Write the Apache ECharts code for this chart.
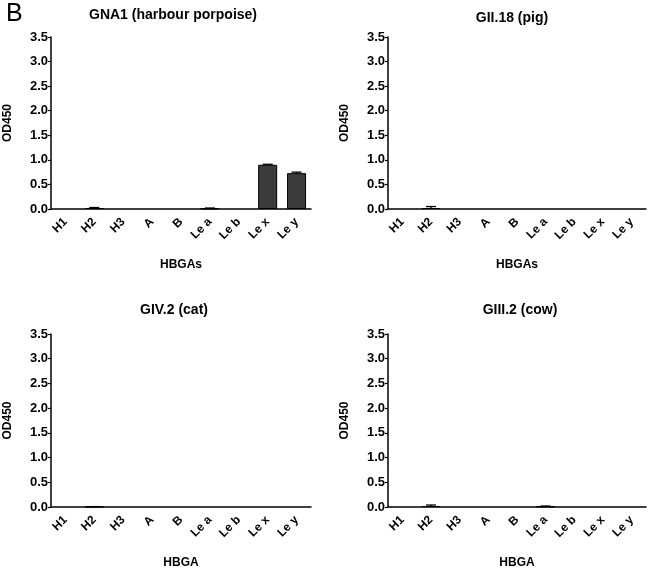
<!DOCTYPE html>
<html><head><meta charset="utf-8">
<script src="https://cdn.jsdelivr.net/npm/echarts@6/dist/echarts.min.js"></script>
<style>html,body{margin:0;padding:0;background:#fff}#c{width:650px;height:568px}</style>
</head><body><div id="c"></div>
<script>
const categories = ['H1','H2','H3','A','B','Le a','Le b','Le x','Le y'];
const yTicks = ['0.0','0.5','1.0','1.5','2.0','2.5','3.0','3.5'];
const titles = ['GNA1 (harbour porpoise)','GII.18 (pig)','GIV.2 (cat)','GIII.2 (cow)'];
const xNames = ['HBGAs','HBGAs','HBGA','HBGA'];
const valsGNA1 = [0, 0.02, 0, 0, 0, 0.01, 0, 0.90, 0.73];
const errGNA1  = [0, 0.01, 0, 0, 0, 0.01, 0, 0.01, 0.02];
const valsGII18 = [0, 0.02, 0, 0, 0, 0, 0, 0, 0];
const errGII18  = [0, 0.03, 0, 0, 0, 0, 0, 0, 0];
const valsGIV2 = [0, 0.005, 0, 0, 0, 0, 0, 0, 0];
const errGIV2  = [0, 0.003, 0, 0, 0, 0, 0, 0, 0];
const valsGIII2 = [0, 0.02, 0, 0, 0, 0.01, 0, 0, 0];
const errGIII2  = [0, 0.02, 0, 0, 0, 0.01, 0, 0, 0];

const panels = [[valsGNA1, errGNA1],[valsGII18, errGII18],[valsGIV2, errGIV2],[valsGIII2, errGIII2]];
const grids = [
  {left:51, top:37, width:260, height:172, outerBoundsMode:'none', containLabel:false},
  {left:388, top:37, width:258, height:172, outerBoundsMode:'none', containLabel:false},
  {left:51, top:334, width:260, height:173, outerBoundsMode:'none', containLabel:false},
  {left:388, top:334, width:258, height:173, outerBoundsMode:'none', containLabel:false}
];
const titlePos = [[168,3],[507,6],[169,298],[515,298]];
const F = 'Liberation Sans, Arial, sans-serif';
const chart = echarts.init(document.getElementById('c'));
const option = {
  animation:false,
  title: [{text:'B', left:1, top:-3, textStyle:{fontFamily:F, fontSize:25, fontWeight:'normal', color:'#000'}}].concat(
    titles.map((t,i)=>({text:t, left: titlePos[i][0], top: titlePos[i][1], textAlign:'center',
      textStyle:{fontFamily:F, fontSize:14, fontWeight:'bold', color:'#000'}}))),
  grid: grids,
  xAxis: grids.map((g,i)=>({type:'category', gridIndex:i, data:categories,
    name:xNames[i], nameLocation:'middle', nameGap:50,
    nameTextStyle:{fontFamily:F, fontSize:12, fontWeight:'bold', color:'#000'},
    axisLine:{lineStyle:{color:'#000', width:1.5}},
    axisTick:{alignWithLabel:true, length:3, lineStyle:{color:'#000', width:1.2}},
    axisLabel:{rotate:45, interval:0, fontFamily:F, fontSize:12, fontWeight:'bold', color:'#000', margin:11}})),
  yAxis: grids.map((g,i)=>({type:'value', gridIndex:i, min:0, max:3.5, interval:0.5,
    name:'OD450', nameLocation:'middle', nameGap:37, nameRotate:90,
    nameTextStyle:{fontFamily:F, fontSize:12, fontWeight:'bold', color:'#000'},
    axisLine:{show:true, lineStyle:{color:'#000', width:1.5}},
    axisTick:{show:true, length:3, lineStyle:{color:'#000', width:1.2}},
    splitLine:{show:false},
    axisLabel:{fontFamily:F, fontSize:13, fontWeight:'bold', color:'#000', margin:3,
      formatter:(v)=>yTicks[Math.round(v/0.5)]}})),
  series: []
};
panels.forEach((p,i)=>{
  option.series.push({type:'bar', xAxisIndex:i, yAxisIndex:i, data:p[0].map(v=>v===0?'-':v), barWidth:19,
    itemStyle:{color:'#3b3b3b', borderColor:'#000', borderWidth:1}});
  option.series.push({type:'custom', xAxisIndex:i, yAxisIndex:i,
    data:p[0].map((v,k)=>[k, v, p[1][k]]),
    renderItem:(params, api)=>{
      const err = api.value(2);
      if (!err) return null;
      const v = api.value(1);
      const top = api.coord([api.value(0), v+err]);
      const bot = api.coord([api.value(0), v]);
      const hw = 5;
      return {type:'group', children:[
        {type:'line', shape:{x1:top[0], y1:top[1], x2:bot[0], y2:bot[1]}, style:{stroke:'#000', lineWidth:1.3}},
        {type:'line', shape:{x1:top[0]-hw, y1:top[1], x2:top[0]+hw, y2:top[1]}, style:{stroke:'#000', lineWidth:1.3}}
      ]};
    }, z:5});
});
chart.setOption(option);
</script></body></html>
